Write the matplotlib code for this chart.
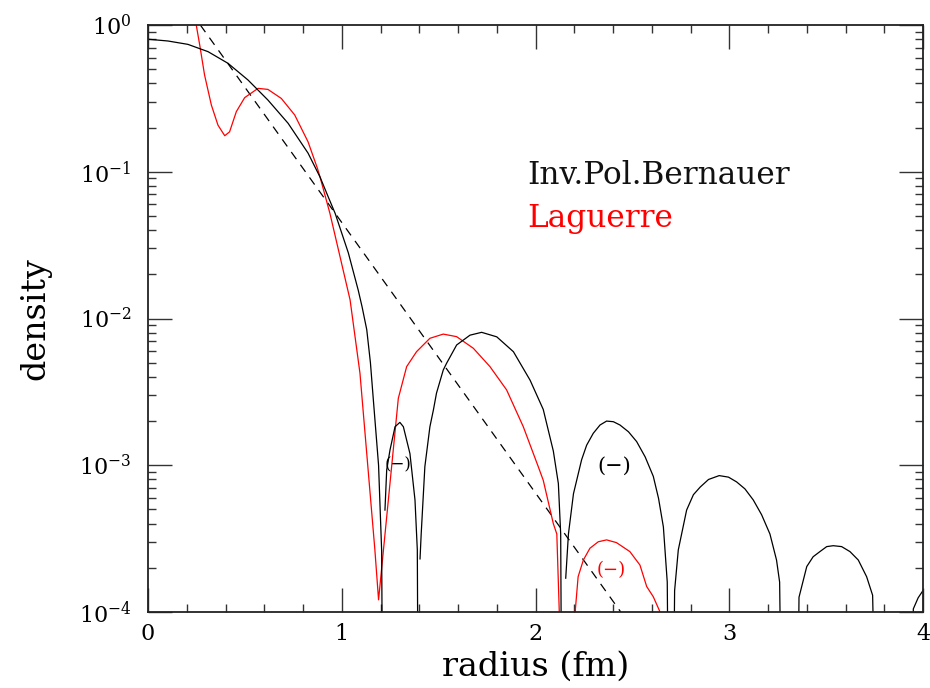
import numpy as np
import matplotlib
matplotlib.use("Agg")
import matplotlib.pyplot as plt
from matplotlib.ticker import FixedLocator, MultipleLocator, LogLocator, NullFormatter, FixedFormatter

plt.rcParams["font.family"] = "DejaVu Serif"
plt.rcParams["mathtext.fontset"] = "dejavuserif"

nan = np.nan

# Inv.Pol.Bernauer density (black); NaN breaks where the plotted value is skipped
bern_r = [0.0, 0.103, 0.206, 0.31, 0.413, 0.516, 0.619, 0.723, 0.826, 0.888, 0.929, 0.966, 1.034, 1.085, 1.105,
          1.129, 1.148, 1.163, 1.19, 1.206, 1.212,
          nan,
          1.223, 1.232, 1.249, 1.275, 1.3, 1.318, 1.352, 1.378, 1.39, 1.395,
          nan,
          1.404, 1.41, 1.429, 1.455, 1.473, 1.489, 1.524, 1.541, 1.593, 1.662, 1.722, 1.8, 1.886, 1.972, 2.04,
          2.092, 2.118, 2.13, 2.136,
          nan,
          2.156, 2.17, 2.196, 2.238, 2.264, 2.298, 2.333, 2.367, 2.402, 2.436, 2.48, 2.522, 2.566, 2.608, 2.635,
          2.66, 2.68, 2.688,
          nan,
          2.71, 2.718, 2.737, 2.78, 2.815, 2.85, 2.893, 2.948, 2.996, 3.038, 3.081, 3.124, 3.167, 3.21, 3.244,
          3.26, 3.272,
          nan,
          3.352, 3.36, 3.4, 3.433, 3.468, 3.503, 3.537, 3.58, 3.623, 3.666, 3.709, 3.74, 3.758,
          nan,
          3.944, 3.95, 3.975, 4.0]
bern_rho = [0.80, 0.778, 0.738, 0.658, 0.548, 0.422, 0.308, 0.214, 0.134, 0.092, 0.068, 0.052, 0.028, 0.0156, 0.012,
            0.0084, 0.005, 0.0028, 0.0010, 2.6e-4, 1e-5,
            nan,
            4.95e-4, 9.3e-4, 1.27e-3, 1.83e-3, 1.96e-3, 1.83e-3, 1.2e-3, 5.8e-4, 2.65e-4, 1e-5,
            nan,
            2.3e-4, 3.4e-4, 9.8e-4, 1.83e-3, 2.38e-3, 3.1e-3, 4.46e-3, 4.95e-3, 6.6e-3, 7.7e-3, 8.05e-3, 7.5e-3,
            5.94e-3, 3.8e-3, 2.4e-3, 1.25e-3, 7.5e-4, 3.4e-4, 1e-5,
            nan,
            1.7e-4, 3.4e-4, 6.4e-4, 1.09e-3, 1.37e-3, 1.65e-3, 1.88e-3, 2.0e-3, 1.98e-3, 1.88e-3, 1.69e-3, 1.45e-3,
            1.14e-3, 8.4e-4, 5.95e-4, 3.8e-4, 1.6e-4, 1e-5,
            nan,
            1e-5, 1.4e-4, 2.65e-4, 4.95e-4, 6.3e-4, 7.1e-4, 8.0e-4, 8.5e-4, 8.3e-4, 7.7e-4, 6.9e-4, 5.8e-4, 4.6e-4,
            3.4e-4, 2.26e-4, 1.6e-4, 1e-5,
            nan,
            1e-5, 1.26e-4, 2.04e-4, 2.38e-4, 2.58e-4, 2.79e-4, 2.83e-4, 2.79e-4, 2.58e-4, 2.26e-4, 1.74e-4, 1.3e-4, 1e-5,
            nan,
            1e-5, 1.05e-4, 1.25e-4, 1.4e-4]

# Laguerre density (red)
lag_r = [0.249, 0.267, 0.292, 0.327, 0.361, 0.396, 0.421, 0.456, 0.499, 0.568, 0.619, 0.688, 0.757, 0.826, 0.875,
         0.888, 0.939, 0.999, 1.043, 1.094, 1.171, 1.19, 1.292, 1.335, 1.386, 1.455, 1.524, 1.593, 1.679, 1.765,
         1.851, 1.937, 2.014, 2.04, 2.092, 2.11, 2.13,
         nan,
         2.2, 2.206, 2.22, 2.247, 2.281, 2.324, 2.367, 2.418, 2.487, 2.539, 2.574, 2.608, 2.64, 2.65]
lag_rho = [1.0, 0.73, 0.456, 0.285, 0.208, 0.176, 0.187, 0.257, 0.32, 0.37, 0.364, 0.316, 0.244, 0.160, 0.105,
           0.092, 0.052, 0.0238, 0.0134, 0.00424, 2.65e-4, 1.21e-4, 2.86e-3, 4.7e-3, 5.94e-3, 7.33e-3, 7.83e-3,
           7.52e-3, 6.27e-3, 4.7e-3, 3.26e-3, 1.83e-3, 9.8e-4, 7.9e-4, 4.0e-4, 3.4e-4, 5e-5,
           nan,
           1e-5, 1.05e-4, 1.74e-4, 2.26e-4, 2.72e-4, 3.01e-4, 3.1e-4, 2.97e-4, 2.58e-4, 2.09e-4, 1.49e-4, 1.27e-4,
           1.02e-4, 1e-5]

# exponential reference (dashed)
exp_r = [0.27, 2.44]
exp_rho = [1.0, 1e-4]

ytick_vals = [1e-4, 1e-3, 1e-2, 1e-1, 1e0]
ytick_labels = [r"$10^{-4}$", r"$10^{-3}$", r"$10^{-2}$", r"$10^{-1}$", r"$10^{0}$"]

fig = plt.figure(figsize=(9.3, 6.88), dpi=100)
ax = fig.add_axes([148 / 930, 76 / 688, 775 / 930, 587 / 688])

ax.plot(exp_r, exp_rho, color="black", lw=0.9, dashes=(7, 5.5))
ax.plot(lag_r, lag_rho, color="red", lw=0.9)
ax.plot(bern_r, bern_rho, color="black", lw=0.9)

ax.set_yscale("log")
ax.set_xlim(0, 4)
ax.set_ylim(1e-4, 1)

ax.xaxis.set_major_locator(MultipleLocator(1))
ax.xaxis.set_minor_locator(MultipleLocator(0.2))
ax.yaxis.set_major_locator(FixedLocator(ytick_vals))
ax.yaxis.set_major_formatter(FixedFormatter(ytick_labels))
ax.yaxis.set_minor_locator(LogLocator(base=10, subs=np.arange(2, 10)))
ax.yaxis.set_minor_formatter(NullFormatter())

ax.tick_params(which="both", direction="in", top=True, right=True, width=1, color="#333333")
ax.tick_params(which="major", length=17)
ax.tick_params(which="minor", length=6)
ax.tick_params(axis="x", which="major", labelsize=16, pad=8)
ax.tick_params(axis="y", which="major", labelsize=16, pad=12)
for s in ax.spines.values():
    s.set_linewidth(1.3)
    s.set_color("#222222")

ax.set_xlabel("radius (fm)", fontsize=24, labelpad=4)
ax.set_ylabel("density", fontsize=24, labelpad=20)

ax.text(1.956, 0.0825, "Inv.Pol.Bernauer", fontsize=22.5, color="#111111", va="baseline")
ax.text(1.956, 0.042, "Laguerre", fontsize=22.5, color="red", va="baseline")
ax.text(1.29, 1.0e-3, "(−)", fontsize=12, ha="center", va="center")
ax.text(2.408, 9.8e-4, "(−)", fontsize=15, ha="center", va="center")
ax.text(2.393, 1.93e-4, "(−)", fontsize=13, color="red", ha="center", va="center")

fig.savefig("out.png", dpi=100)
